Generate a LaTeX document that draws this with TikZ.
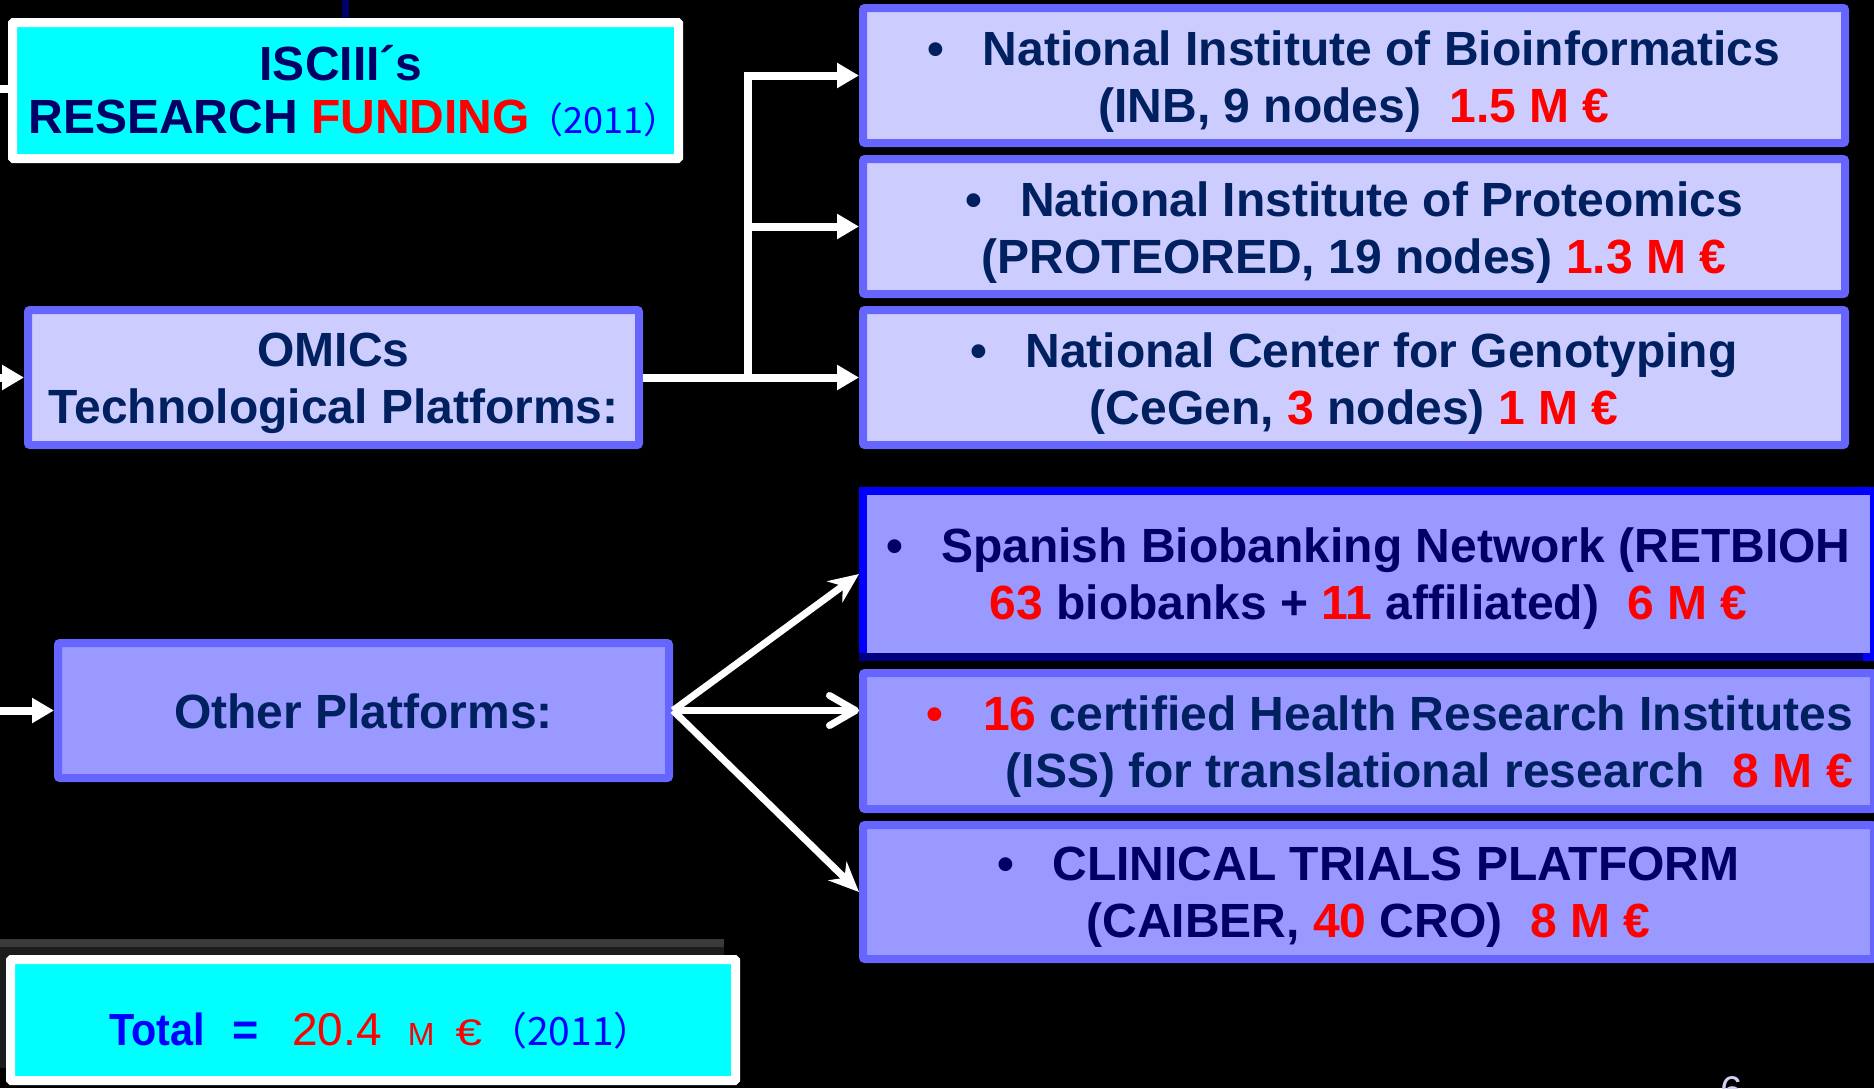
\documentclass[tikz,border=0pt]{standalone}
\usepackage{fontspec}
\setmainfont{Liberation Sans}
\newfontfamily\cjk{Noto Sans CJK SC}
\usepackage{graphicx}
\usetikzlibrary{arrows.meta}
\definecolor{cyanbox}{RGB}{0,255,255}
\definecolor{lfill}{RGB}{204,204,255}
\definecolor{mfill}{RGB}{153,153,255}
\definecolor{bord}{RGB}{102,102,255}
\definecolor{tnavy}{RGB}{0,0,102}
\definecolor{tnavyb}{RGB}{0,32,96}
\definecolor{tblue}{RGB}{0,0,255}
\definecolor{dnavy}{RGB}{0,0,128}
\definecolor{pgnum}{RGB}{208,208,240}
\definecolor{grayband}{RGB}{58,58,58}
\definecolor{graydark}{RGB}{28,28,28}
\begin{document}
\begin{tikzpicture}[x=1pt,y=-1pt,
  box/.style={draw=bord, line width=8pt, rounded corners=2pt, inner sep=0pt},
  lbox/.style={box, fill=lfill},
  mbox/.style={box, fill=mfill},
  txt/.style={inner sep=0pt, font=\fontsize{48}{57}\selectfont\bfseries, align=center, text=tnavyb},
  wline/.style={draw=white, line width=8pt},
  warr/.style={wline, -{Triangle[length=22pt,width=24pt]}},
  cyanframe/.style={draw=white, line width=9pt, fill=cyanbox, rounded corners=1pt, inner sep=0pt}
]
\useasboundingbox (0,0) rectangle (1874,1088);
\fill[black] (0,0) rectangle (1874,1088);
\clip (0,0) rectangle (1874,1088);

% ---- title box ----
\coordinate (stubT) at (345.5,0);
\coordinate (stubL) at (0,89);
\node[cyanframe, minimum width=666, minimum height=136] (isc) at (345.5,90.5) {};
\draw[draw=tnavy, line width=7pt] (stubT) -- (isc.north);
\draw[wline] (stubL) -- (stubL -| isc.west);
\node[txt, text=tnavy, font=\fontsize{48}{53}\selectfont\bfseries] (iscT) at (341,91)
  {ISCIII´s\\RESEARCH {\color{red}FUNDING}\hspace{-2pt}{\cjk\mdseries\fontsize{36}{36}\selectfont\color{tblue}（2011）}\hspace{-26pt}\mbox{}};

% ---- OMICs ----
\node[lbox, minimum width=611, minimum height=135] (omics) at (333.5,377.5) {};
\node[txt] (omT) at (333.5,383.5) {OMICs\\Technological Platforms:};

\node[lbox, minimum width=982, minimum height=135] (inb) at (1354,75.5) {};
\node[lbox, minimum width=982, minimum height=135] (prot) at (1354,226.5) {};
\node[lbox, minimum width=982, minimum height=135] (cegen) at (1354,377.5) {};

\node[txt] (inbT) at (1354,81.5)
  {•\hspace{38pt}National Institute of Bioinformatics\\(INB, 9 nodes)\hspace{28pt}{\color{red}1.5 M €}};
\node[txt] (protT) at (1354,232.5)
  {•\hspace{38pt}National Institute of Proteomics\\(PROTEORED, 19 nodes) {\color{red}1.3 M €}};
\node[txt] (cegT) at (1354,383.5)
  {•\hspace{38pt}National Center for Genotyping\\(CeGen, {\color{red}3} nodes) {\color{red}1 M €}};

\coordinate (inO) at (0,377.5);
\draw[warr] (inO) -- (omics.west);
\coordinate (split) at (748,377.5);
\draw[wline] (omics.east) -- (split);
\draw[warr] (split) |- (inb.west);
\draw[warr] (split) |- (prot.west);
\draw[warr] (split) -- (cegen.west);

% ---- Other platforms ----
\node[mbox, minimum width=611, minimum height=135] (other) at (363.5,710.5) {};
\node[txt] (othT) at (363.5,711.5) {Other Platforms:};

\node[box, draw=tblue, fill=mfill, rounded corners=0pt, minimum width=1011, minimum height=166] (ret) at (1368.5,574) {};
\draw[draw=dnavy, line width=8pt] ([yshift=4pt]ret.south west) -- ([xshift=-15pt,yshift=4pt]ret.south east);
\node[mbox, minimum width=1011, minimum height=136] (iss) at (1368.5,741) {};
\node[mbox, minimum width=1011, minimum height=134] (cai) at (1368.5,892) {};

\node[txt, text=tnavy] (retT) at (1368.5,579)
  {•\hspace{38pt}Spanish Biobanking Network (RETBIOH\\{\color{red}63} biobanks + {\color{red}11} affiliated)\hspace{28pt}{\color{red}6 M €}};
\node[txt, align=right, anchor=east] (issT) at (1853,746.5)
  {{\color{red}•}\hspace{40pt}{\color{red}16} certified Health Research Institutes\\(ISS) for translational research\hspace{28pt}{\color{red}8 M €}};
\node[txt, text=tnavy] (caiT) at (1368.5,897.5)
  {•\hspace{38pt}CLINICAL TRIALS PLATFORM\\(CAIBER, {\color{red}40} CRO)\hspace{28pt}{\color{red}8 M €}};

\coordinate (inOt) at (0,710.5);
\draw[warr] (inOt) -- (other.west);
\draw[wline, line width=7pt, -{Stealth[length=30pt,width=26pt]}] (other.east) -- (ret.west);
\draw[wline, line width=7pt, -{Straight Barb[length=26pt,width=30pt,round]}] (other.east) -- (other.east -| iss.west);
\draw[wline, line width=7pt, -{Stealth[length=30pt,width=26pt]}] (other.east) -- (cai.west);

% ---- total ----
\fill[graydark] (0,947) rectangle (724,1068);
\fill[grayband] (0,939) rectangle (724,947);
\node[cyanframe, minimum width=725, minimum height=121] (tot) at (373,1020) {};
\node[anchor=base west, inner sep=0pt] (totT) at (109,1045)
  {{\color{tblue}\scalebox{0.92}[1]{\fontsize{45}{45}\selectfont\bfseries Total}}\hspace{27pt}{\color{tblue}\fontsize{45}{45}\selectfont\bfseries =}\hspace{34pt}{\color{red}\fontsize{46}{46}\selectfont 20.4}\hspace{26pt}{\color{red}\fontsize{32}{32}\selectfont M}\hspace{21pt}{\color{red}\scalebox{1.3}[1]{\fontsize{37}{37}\selectfont €}}\hspace{6pt}{\cjk\fontsize{39}{39}\selectfont\color{tblue}（2011）}};

% ---- page number fragment ----
\node[anchor=base west, inner sep=0pt, text=pgnum, font=\fontsize{40}{40}\selectfont] (pg) at (1720,1104) {6};
\end{tikzpicture}
\end{document}
